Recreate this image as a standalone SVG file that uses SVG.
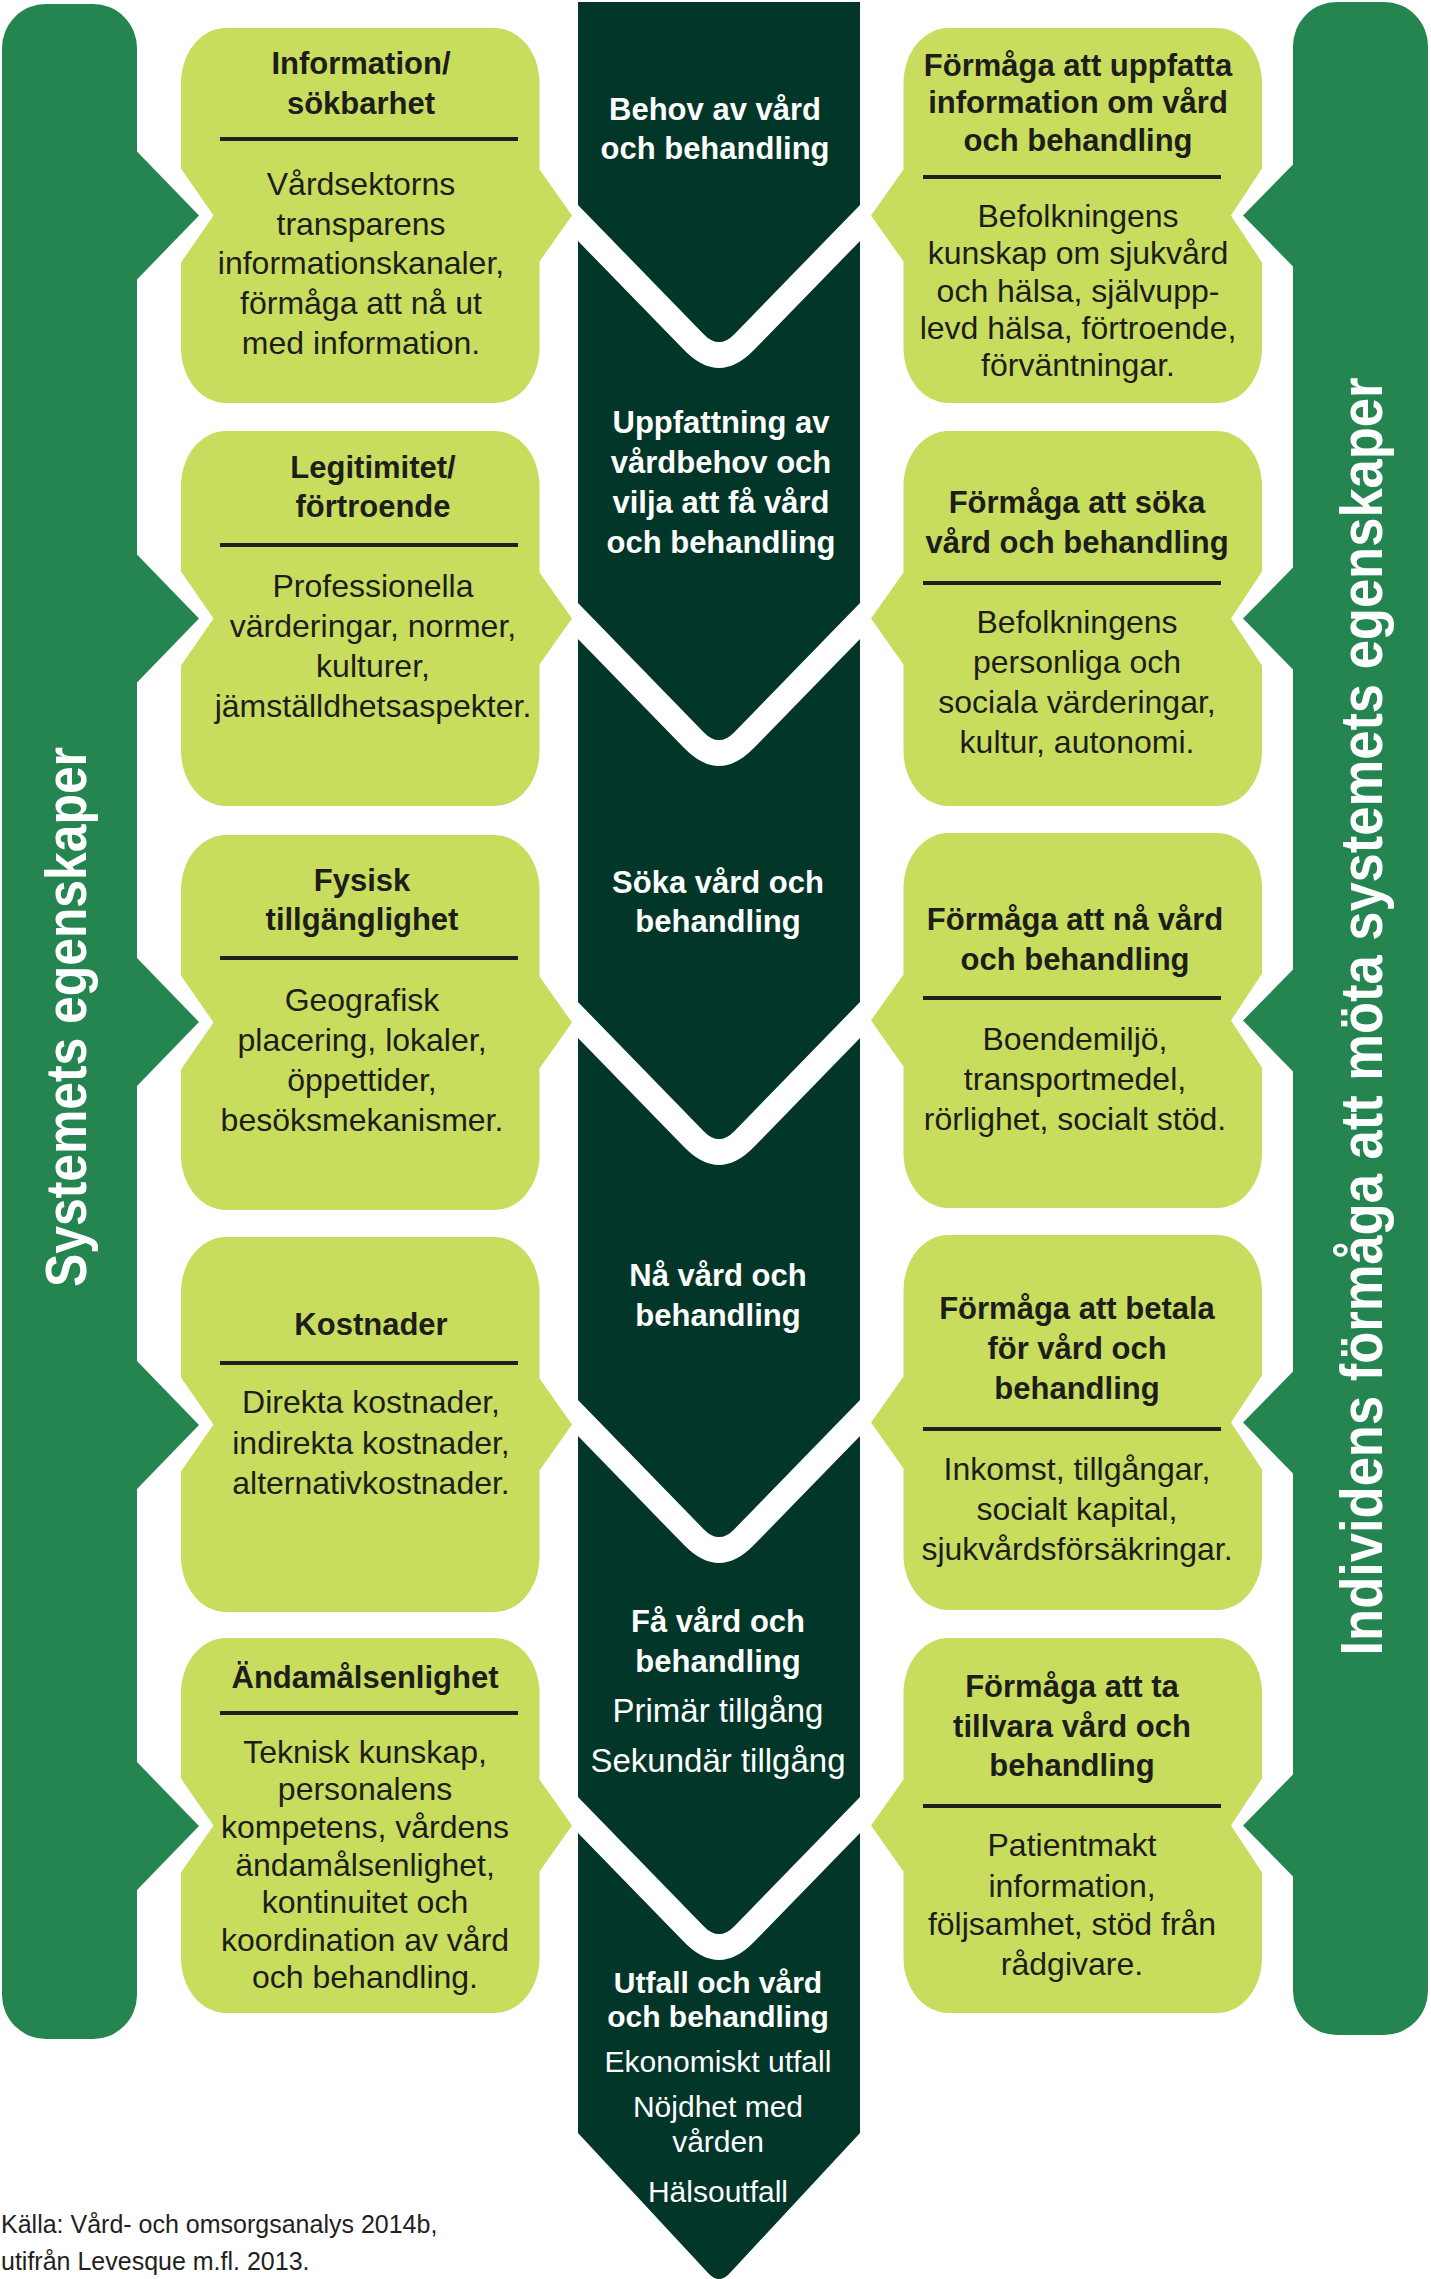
<svg xmlns="http://www.w3.org/2000/svg" width="1431" height="2279" viewBox="0 0 1431 2279">
<style>
.bar{fill:#248551}
.box{fill:#C8DC5E}
.seg{fill:#023628}
text{font-family:"Liberation Sans",Arial,sans-serif}
.hd{font-weight:bold;font-size:31px;fill:#1d1d1b;text-anchor:middle}
.bd{font-size:32px;fill:#1d1d1b;text-anchor:middle}
.dv{stroke:#231f20;stroke-width:4}
.ch{font-weight:bold;font-size:31px;fill:#fff;text-anchor:middle}
.cr{font-size:33px;fill:#fff;text-anchor:middle}
.ch2{font-weight:bold;font-size:30px;fill:#fff;text-anchor:middle}
.cr2{font-size:30px;fill:#fff;text-anchor:middle}
.vt{font-weight:bold;font-size:58px;fill:#fff;text-anchor:middle}
.src{font-size:25px;fill:#231f20}
</style>
<rect width="1431" height="2279" fill="#fff"/>

<g id="bar-system">
<path class="bar" d="M 46 4 H 93 A 44 44 0 0 1 137 48 V 151.5 L 199 215.5 L 137 279.5 V 554.5 L 199 618.5 L 137 682.5 V 958 L 199 1022 L 137 1086 V 1361 L 199 1425 L 137 1489 V 1762 L 199 1826 L 137 1890 V 1995 A 44 44 0 0 1 93 2039 H 46 A 44 44 0 0 1 2 1995 V 48 A 44 44 0 0 1 46 4 Z"/>
<text class="vt" transform="translate(86 1017) rotate(-90)" textLength="540" lengthAdjust="spacingAndGlyphs">Systemets egenskaper</text>
</g>

<g id="bar-individ">
<path class="bar" d="M 1337 2 H 1384 A 44 44 0 0 1 1428 46 V 1991 A 44 44 0 0 1 1384 2035 H 1337 A 44 44 0 0 1 1293 1991 V 1876.5 L 1243 1825.5 L 1293 1774.5 V 1473.5 L 1243 1422.5 L 1293 1371.5 V 1071.5 L 1243 1020.5 L 1293 969.5 V 669.5 L 1243 618.5 L 1293 567.5 V 266.5 L 1243 215.5 L 1293 164.5 V 46 A 44 44 0 0 1 1337 2 Z"/>
<text class="vt" font-size="60" transform="translate(1382 1016.5) rotate(-90)" textLength="1278" lengthAdjust="spacingAndGlyphs" style="font-size:60px">Individens förmåga att möta systemets egenskaper</text>
</g>

<!-- center column -->
<g id="step-behov">
<path class="seg" d="M 578 2 H 860 V 205 L 734.3 334.2 Q 719 350 703.7 334.2 L 578 205 Z"/>
<text class="ch" x="715" y="120">Behov av vård</text>
<text class="ch" x="715" y="159">och behandling</text>
</g>
<g id="step-uppfattning">
<path class="seg" d="M 578 241 L 684.1 350.1 Q 719 386 753.9 350.1 L 860 241 V 603 L 734.3 732.2 Q 719 748 703.7 732.2 L 578 603 Z"/>
<text class="ch" x="721" y="433">Uppfattning av</text>
<text class="ch" x="721" y="473">vårdbehov och</text>
<text class="ch" x="721" y="513">vilja att få vård</text>
<text class="ch" x="721" y="553">och behandling</text>
</g>
<g id="step-soka">
<path class="seg" d="M 578 639 L 684.1 748.1 Q 719 784 753.9 748.1 L 860 639 V 1002 L 734.3 1131.2 Q 719 1147 703.7 1131.2 L 578 1002 Z"/>
<text class="ch" x="718" y="893">Söka vård och</text>
<text class="ch" x="718" y="932">behandling</text>
</g>
<g id="step-na">
<path class="seg" d="M 578 1038 L 684.1 1147.1 Q 719 1183 753.9 1147.1 L 860 1038 V 1400 L 734.3 1529.2 Q 719 1545 703.7 1529.2 L 578 1400 Z"/>
<text class="ch" x="718" y="1286">Nå vård och</text>
<text class="ch" x="718" y="1326">behandling</text>
</g>
<g id="step-fa">
<path class="seg" d="M 578 1436 L 684.1 1545.1 Q 719 1581 753.9 1545.1 L 860 1436 V 1797 L 734.3 1926.2 Q 719 1942 703.7 1926.2 L 578 1797 Z"/>
<text class="ch" x="718" y="1632">Få vård och</text>
<text class="ch" x="718" y="1672">behandling</text>
<text class="cr" x="718" y="1722">Primär tillgång</text>
<text class="cr" x="718" y="1772">Sekundär tillgång</text>
</g>
<g id="step-utfall">
<path class="seg" d="M 578 1833 L 684.1 1942.1 Q 719 1978 753.9 1942.1 L 860 1833 V 2133 L 729 2274 Q 719 2284 709 2274 L 578 2133 Z"/>
<text class="ch2" x="718" y="1993">Utfall och vård</text>
<text class="ch2" x="718" y="2027">och behandling</text>
<text class="cr2" x="718" y="2072">Ekonomiskt utfall</text>
<text class="cr2" x="718" y="2117">Nöjdhet med</text>
<text class="cr2" x="718" y="2152">vården</text>
<text class="cr2" x="718" y="2202">Hälsoutfall</text>
</g>

<!-- left boxes -->
<g id="sys-information">
<path class="box" d="M 226 28 H 494.5 A 45 55 0 0 1 539.5 83 V 169.5 L 572 215.5 L 539.5 261.5 V 348 A 45 55 0 0 1 494.5 403 H 226 A 45 55 0 0 1 181 348 V 262.5 L 213.5 215.5 L 181 168.5 V 83 A 45 55 0 0 1 226 28 Z"/>
<text class="hd" x="361" y="74">Information/</text>
<text class="hd" x="361" y="114">sökbarhet</text>
<line class="dv" x1="220" y1="139" x2="518" y2="139"/>
<text class="bd" x="361" y="195">Vårdsektorns</text>
<text class="bd" x="361" y="235">transparens</text>
<text class="bd" x="361" y="274">informationskanaler,</text>
<text class="bd" x="361" y="314">förmåga att nå ut</text>
<text class="bd" x="361" y="354">med information.</text>
</g>
<g id="sys-legitimitet">
<path class="box" d="M 226 431 H 494.5 A 45 55 0 0 1 539.5 486 V 572.5 L 572 618.5 L 539.5 664.5 V 751 A 45 55 0 0 1 494.5 806 H 226 A 45 55 0 0 1 181 751 V 665.5 L 213.5 618.5 L 181 571.5 V 486 A 45 55 0 0 1 226 431 Z"/>
<text class="hd" x="373" y="478">Legitimitet/</text>
<text class="hd" x="373" y="517">förtroende</text>
<line class="dv" x1="220" y1="545" x2="518" y2="545"/>
<text class="bd" x="373" y="597">Professionella</text>
<text class="bd" x="373" y="637">värderingar, normer,</text>
<text class="bd" x="373" y="677">kulturer,</text>
<text class="bd" x="373" y="717">jämställdhetsaspekter.</text>
</g>
<g id="sys-fysisk">
<path class="box" d="M 226 835 H 494.5 A 45 55 0 0 1 539.5 890 V 976.5 L 572 1022.5 L 539.5 1068.5 V 1155 A 45 55 0 0 1 494.5 1210 H 226 A 45 55 0 0 1 181 1155 V 1069.5 L 213.5 1022.5 L 181 975.5 V 890 A 45 55 0 0 1 226 835 Z"/>
<text class="hd" x="362" y="891">Fysisk</text>
<text class="hd" x="362" y="930">tillgänglighet</text>
<line class="dv" x1="220" y1="958" x2="518" y2="958"/>
<text class="bd" x="362" y="1011">Geografisk</text>
<text class="bd" x="362" y="1051">placering, lokaler,</text>
<text class="bd" x="362" y="1091">öppettider,</text>
<text class="bd" x="362" y="1131">besöksmekanismer.</text>
</g>
<g id="sys-kostnader">
<path class="box" d="M 226 1237 H 494.5 A 45 55 0 0 1 539.5 1292 V 1378.5 L 572 1424.5 L 539.5 1470.5 V 1557 A 45 55 0 0 1 494.5 1612 H 226 A 45 55 0 0 1 181 1557 V 1471.5 L 213.5 1424.5 L 181 1377.5 V 1292 A 45 55 0 0 1 226 1237 Z"/>
<text class="hd" x="371" y="1335">Kostnader</text>
<line class="dv" x1="220" y1="1363" x2="518" y2="1363"/>
<text class="bd" x="371" y="1413">Direkta kostnader,</text>
<text class="bd" x="371" y="1454">indirekta kostnader,</text>
<text class="bd" x="371" y="1494">alternativkostnader.</text>
</g>
<g id="sys-andamal">
<path class="box" d="M 226 1638 H 494.5 A 45 55 0 0 1 539.5 1693 V 1779.5 L 572 1825.5 L 539.5 1871.5 V 1958 A 45 55 0 0 1 494.5 2013 H 226 A 45 55 0 0 1 181 1958 V 1872.5 L 213.5 1825.5 L 181 1778.5 V 1693 A 45 55 0 0 1 226 1638 Z"/>
<text class="hd" x="365" y="1688">Ändamålsenlighet</text>
<line class="dv" x1="220" y1="1713" x2="518" y2="1713"/>
<text class="bd" x="365" y="1763">Teknisk kunskap,</text>
<text class="bd" x="365" y="1800">personalens</text>
<text class="bd" x="365" y="1838">kompetens, vårdens</text>
<text class="bd" x="365" y="1876">ändamålsenlighet,</text>
<text class="bd" x="365" y="1913">kontinuitet och</text>
<text class="bd" x="365" y="1951">koordination av vård</text>
<text class="bd" x="365" y="1988">och behandling.</text>
</g>

<!-- right boxes -->
<g id="ind-uppfatta">
<path class="box" d="M 948.5 28 H 1217 A 45 55 0 0 1 1262 83 V 168.5 L 1231 215.5 L 1262 262.5 V 348 A 45 55 0 0 1 1217 403 H 948.5 A 45 55 0 0 1 903.5 348 V 261.5 L 871 215.5 L 903.5 169.5 V 83 A 45 55 0 0 1 948.5 28 Z"/>
<text class="hd" x="1078" y="76">Förmåga att uppfatta</text>
<text class="hd" x="1078" y="113">information om vård</text>
<text class="hd" x="1078" y="151">och behandling</text>
<line class="dv" x1="923" y1="177" x2="1221" y2="177"/>
<text class="bd" x="1078" y="227">Befolkningens</text>
<text class="bd" x="1078" y="264">kunskap om sjukvård</text>
<text class="bd" x="1078" y="302">och hälsa, självupp-</text>
<text class="bd" x="1078" y="339">levd hälsa, förtroende,</text>
<text class="bd" x="1078" y="376">förväntningar.</text>
</g>
<g id="ind-soka">
<path class="box" d="M 948.5 431 H 1217 A 45 55 0 0 1 1262 486 V 571.5 L 1231 618.5 L 1262 665.5 V 751 A 45 55 0 0 1 1217 806 H 948.5 A 45 55 0 0 1 903.5 751 V 664.5 L 871 618.5 L 903.5 572.5 V 486 A 45 55 0 0 1 948.5 431 Z"/>
<text class="hd" x="1077" y="513">Förmåga att söka</text>
<text class="hd" x="1077" y="553">vård och behandling</text>
<line class="dv" x1="923" y1="583" x2="1221" y2="583"/>
<text class="bd" x="1077" y="633">Befolkningens</text>
<text class="bd" x="1077" y="673">personliga och</text>
<text class="bd" x="1077" y="713">sociala värderingar,</text>
<text class="bd" x="1077" y="753">kultur, autonomi.</text>
</g>
<g id="ind-na">
<path class="box" d="M 948.5 833 H 1217 A 45 55 0 0 1 1262 888 V 973.5 L 1231 1020.5 L 1262 1067.5 V 1153 A 45 55 0 0 1 1217 1208 H 948.5 A 45 55 0 0 1 903.5 1153 V 1066.5 L 871 1020.5 L 903.5 974.5 V 888 A 45 55 0 0 1 948.5 833 Z"/>
<text class="hd" x="1075" y="930">Förmåga att nå vård</text>
<text class="hd" x="1075" y="970">och behandling</text>
<line class="dv" x1="923" y1="998" x2="1221" y2="998"/>
<text class="bd" x="1075" y="1050">Boendemiljö,</text>
<text class="bd" x="1075" y="1090">transportmedel,</text>
<text class="bd" x="1075" y="1130">rörlighet, socialt stöd.</text>
</g>
<g id="ind-betala">
<path class="box" d="M 948.5 1235 H 1217 A 45 55 0 0 1 1262 1290 V 1375.5 L 1231 1422.5 L 1262 1469.5 V 1555 A 45 55 0 0 1 1217 1610 H 948.5 A 45 55 0 0 1 903.5 1555 V 1468.5 L 871 1422.5 L 903.5 1376.5 V 1290 A 45 55 0 0 1 948.5 1235 Z"/>
<text class="hd" x="1077" y="1319">Förmåga att betala</text>
<text class="hd" x="1077" y="1359">för vård och</text>
<text class="hd" x="1077" y="1399">behandling</text>
<line class="dv" x1="923" y1="1429" x2="1221" y2="1429"/>
<text class="bd" x="1077" y="1480">Inkomst, tillgångar,</text>
<text class="bd" x="1077" y="1520">socialt kapital,</text>
<text class="bd" x="1077" y="1560">sjukvårdsförsäkringar.</text>
</g>
<g id="ind-tillvara">
<path class="box" d="M 948.5 1638 H 1217 A 45 55 0 0 1 1262 1693 V 1778.5 L 1231 1825.5 L 1262 1872.5 V 1958 A 45 55 0 0 1 1217 2013 H 948.5 A 45 55 0 0 1 903.5 1958 V 1871.5 L 871 1825.5 L 903.5 1779.5 V 1693 A 45 55 0 0 1 948.5 1638 Z"/>
<text class="hd" x="1072" y="1697">Förmåga att ta</text>
<text class="hd" x="1072" y="1737">tillvara vård och</text>
<text class="hd" x="1072" y="1776">behandling</text>
<line class="dv" x1="923" y1="1806" x2="1221" y2="1806"/>
<text class="bd" x="1072" y="1856">Patientmakt</text>
<text class="bd" x="1072" y="1897">information,</text>
<text class="bd" x="1072" y="1935">följsamhet, stöd från</text>
<text class="bd" x="1072" y="1975">rådgivare.</text>
</g>

<g id="source">
<text class="src" x="1" y="2233">Källa: Vård- och omsorgsanalys 2014b,</text>
<text class="src" x="1" y="2270">utifrån Levesque m.fl. 2013.</text>
</g>
</svg>
